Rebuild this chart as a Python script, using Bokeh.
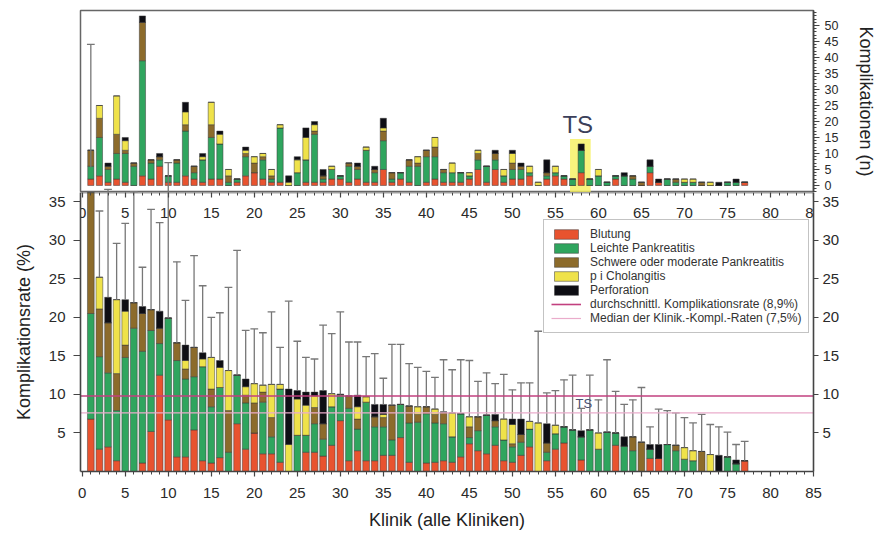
import numpy as np
from bokeh.plotting import figure
from bokeh.layouts import column
from bokeh.models import (ColumnDataSource, LinearAxis, Range1d, SingleIntervalTicker,
                          FixedTicker, Legend, LegendItem, BoxAnnotation, Label)
from bokeh.embed import file_html
from bokeh.resources import INLINE

# ---------------- data ----------------
clinics = list(range(1, 78))
categories = ["Blutung", "Leichte Pankreatitis", "Schwere oder moderate Pankreatitis",
              "p i Cholangitis", "Perforation"]
keys = ["blutung", "leicht", "schwer", "cholangitis", "perforation"]
colors = ["#e8532f", "#2fa55e", "#8c6b2b", "#efe24a", "#0e0e14"]

# complication rate (%) per clinic, by type
rate_blutung = [6.8, 2.9, 3.2, 1.4, 0, 0, 1.1, 5.2, 12.5, 6.7,
                1.9, 1.9, 5.4, 1.4, 1.1, 1.8, 0, 6.2, 2.9, 5.0,
                2.3, 2.3, 1.2, 0, 0, 2.5, 2.5, 2.0, 3.4, 6.6,
                1.4, 2.7, 1.4, 1.4, 2.1, 2.1, 4.4, 1.2, 0, 1.1,
                1.2, 1.4, 1.2, 1.9, 3.6, 2.7, 2.3, 3.4, 1.4, 1.2,
                2.1, 3.2, 0, 1.4, 2.9, 3.7, 0, 1.5, 0, 0,
                0, 3.4, 0, 0, 0, 1.7, 1.7, 0, 0, 0,
                0, 0, 0, 0, 0, 0, 1.4]
rate_leicht = [13.7, 12.0, 9.6, 6.5, 14.8, 18.6, 14.5, 13.1, 4.1, 13.2,
               12.5, 10.1, 6.9, 12.2, 7.3, 9.1, 2.5, 6.3, 6.0, 0,
               6.7, 2.2, 9.5, 0, 4.7, 2.2, 3.7, 2.2, 5.0, 3.4,
               6.8, 2.8, 7.6, 4.4, 3.7, 2.0, 4.3, 5.1, 6.4, 6.4,
               5.1, 4.8, 3.3, 5.6, 0.8, 2.6, 5.0, 2.4, 2.7, 2.0,
               1.7, 2.3, 0, 1.1, 2.0, 2.1, 5.4, 3.0, 5.4, 2.9,
               5.1, 1.6, 3.3, 2.7, 0, 1.2, 0, 3.5, 2.7, 1.6,
               1.4, 0, 0, 0, 1.9, 1.0, 0]
rate_schwer = [19.0, 6.2, 6.5, 4.8, 1.6, 3.3, 4.9, 2.7, 2.0, 0,
               2.3, 1.3, 3.8, 0, 2.3, 0, 5.4, 0, 1.0, 3.9,
               1.3, 2.5, 0, 0, 0, 0, 2.1, 2.0, 0, 0,
               1.6, 1.3, 0, 1.3, 1.2, 4.5, 0, 2.2, 1.0, 0.9,
               1.1, 1.5, 0, 0, 1.4, 1.8, 0, 0.8, 0, 0.4,
               1.0, 0, 0, 1.2, 0, 0, 0, 0, 0, 0,
               0, 0, 0, 1.8, 3.8, 0, 0, 0, 0.7, 0,
               0, 2.6, 0, 0, 0, 0, 0]
rate_cholangitis = [0, 4.1, 0, 9.6, 4.4, 0, 0, 0, 0, 0,
                    0, 1.1, 0, 1.0, 4.1, 2.6, 5.2, 0, 1.1, 2.5,
                    0.9, 4.3, 0.6, 3.5, 4.7, 3.9, 1.5, 0, 1.7, 0,
                    0, 1.6, 0.7, 0, 0.4, 0, 0, 0, 1.0, 0,
                    0.7, 0, 3.1, 0, 1.3, 0, 0, 0, 2.7, 2.5,
                    0, 1.0, 6.3, 0, 1.1, 0, 0, 0, 0, 2.1,
                    0, 0, 0, 0, 0, 0, 0, 0, 0, 1.5,
                    1.3, 0, 2.2, 0, 0, 0, 0]
rate_perforation = [0, 0, 3.3, 0, 1.5, 0, 0.9, 0, 2.2, 0,
                    0, 2.0, 0, 0.8, 0, 0.9, 0, 0, 1.0, 0,
                    0, 0, 0, 7.2, 1.1, 1.7, 0.5, 4.3, 0, 0,
                    0, 1.5, 0, 1.6, 1.3, 0, 0, 0, 0, 0,
                    0, 0, 0, 0, 0, 0, 0, 0.8, 0, 0.7,
                    2.0, 0, 0, 2.5, 0, 0, 0, 0.8, 0, 0,
                    0, 0, 1.2, 0, 0, 0.6, 1.8, 0, 0, 0,
                    0, 0, 0, 2.1, 0, 0.5, 0]
# upper confidence limit (%)
rate_upper = [55.5, 33.8, 36.6, 29.6, 32.2, 36.3, 26.5, 34.0, 32.3, 40.1,
              27.2, 22.2, 28.0, 24.1, 20.0, 20.6, 23.9, 28.7, 18.3, 18.5,
              18.0, 20.7, 16.1, 22.1, 16.9, 14.8, 14.6, 19.0, 17.9, 20.7,
              16.8, 16.8, 14.9, 15.3, 12.1, 16.5, 16.5, 14.0, 13.5, 13.0,
              12.2, 14.5, 13.2, 14.5, 14.4, 11.7, 12.8, 11.4, 12.6, 10.6,
              11.5, 11.5, 18.2, 10.2, 10.5, 11.9, 12.5, 8.2, 12.5, 9.3,
              14.5, 10.4, 8.7, 9.3, 10.9, 5.8, 8.1, 7.9, 7.6, 7.0,
              6.3, 7.4, 6.1, 5.8, 5.1, 3.5, 3.9]

# number of complications per clinic, by type
n_blutung = [2, 3, 1, 2, 1, 0, 3, 2, 6, 1, 1, 3, 2, 1, 2, 2, 0, 1, 3, 4,
             2, 1, 1, 0, 0, 1, 1, 1, 2, 2, 1, 2, 1, 1, 5, 1, 2, 1, 0, 1,
             2, 1, 1, 1, 2, 5, 1, 5, 1, 2, 2, 3, 0, 2, 3, 2, 0, 4, 0, 0,
             0, 2, 0, 0, 0, 4, 1, 0, 0, 0, 0, 0, 0, 0, 0, 0, 1]
n_leicht = [4, 12, 4, 8, 9, 6, 36, 5, 2, 2, 6, 14, 2, 7, 13, 11, 1, 1, 6, 0,
            6, 1, 17, 0, 4, 7, 15, 1, 3, 1, 5, 3, 10, 3, 9, 1, 2, 5, 6, 8,
            7, 3, 3, 3, 1, 3, 5, 3, 2, 3, 3, 1, 0, 1, 1, 1, 2, 7, 2, 3,
            1, 1, 3, 2, 0, 2, 0, 2, 1, 1, 1, 0, 0, 0, 1, 1, 0]
n_schwer = [5, 6, 1, 6, 1, 1, 12, 1, 1, 0, 1, 2, 2, 0, 4, 0, 2, 0, 1, 3,
            1, 1, 0, 0, 0, 0, 1, 1, 0, 0, 1, 1, 0, 1, 3, 2, 0, 2, 1, 2,
            3, 1, 0, 0, 0, 2, 0, 2, 0, 2, 1, 0, 0, 1, 0, 0, 0, 0, 0, 0,
            0, 0, 0, 1, 1, 0, 0, 0, 1, 0, 0, 1, 0, 0, 0, 0, 0]
n_cholangitis = [0, 4, 0, 12, 3, 0, 0, 0, 0, 0, 0, 4, 0, 1, 7, 3, 2, 0, 1, 2,
                 1, 2, 1, 1, 4, 7, 2, 0, 1, 0, 0, 0, 1, 0, 1, 0, 0, 0, 2, 0,
                 3, 0, 3, 0, 1, 1, 0, 0, 2, 3, 0, 2, 1, 0, 2, 0, 0, 0, 0, 2,
                 0, 0, 0, 0, 0, 0, 0, 0, 0, 1, 1, 0, 1, 0, 0, 0, 0]
n_perforation = [0, 0, 1, 0, 1, 0, 2, 0, 1, 0, 0, 3, 0, 1, 0, 1, 0, 0, 1, 0,
                 0, 0, 0, 2, 1, 3, 1, 2, 0, 0, 0, 1, 0, 1, 3, 0, 0, 0, 0, 0,
                 0, 0, 0, 0, 0, 0, 0, 1, 0, 1, 1, 0, 0, 4, 0, 0, 0, 2, 0, 0,
                 0, 0, 1, 0, 0, 2, 1, 0, 0, 0, 0, 0, 0, 1, 0, 1, 0]

mean_rate_line = 9.8      # "durchschnittl. Komplikationsrate (8,9%)" as drawn
median_rate_line = 7.6    # "Median der Klinik.-Kompl.-Raten (7,5%)" as drawn
mean_label = "durchschnittl. Komplikationsrate (8,9%)"
median_label = "Median der Klinik.-Kompl.-Raten (7,5%)"
rate_ticks = [5, 10, 15, 20, 25, 30, 35]
marked_clinic = 58
marked_text = "TS"

# ---------------- ranges ----------------
X_START, X_END = -0.2, 85.0
PCT_SPLIT, PCT_TOP = 36.2, 59.9
N_START, N_END = -2.2, 54.7
xr = Range1d(X_START, X_END)

FONT = "Liberation Sans"
AX = "#444444"
W = 890
LEFT, RIGHT = 80, 77


def style_axis(ax, size="15px"):
    ax.axis_line_color = AX
    ax.axis_line_width = 1.6
    ax.major_tick_line_color = AX
    ax.minor_tick_line_color = AX
    ax.major_tick_line_width = 1.2
    ax.major_label_text_font = FONT
    ax.major_label_text_font_size = size
    ax.major_label_text_color = "#2a2a2a"
    ax.axis_label_text_font = FONT
    ax.axis_label_text_font_style = "normal"
    ax.axis_label_text_color = "#222222"
    ax.axis_label_text_font_size = "18px"


x = np.array(clinics, dtype=float)
rate_arrays = [rate_blutung, rate_leicht, rate_schwer, rate_cholangitis, rate_perforation]
count_arrays = [n_blutung, n_leicht, n_schwer, n_cholangitis, n_perforation]
rate_total = np.sum(np.array(rate_arrays, dtype=float), axis=0)
upper = np.array(rate_upper, dtype=float)
CAP = 0.45

whisk_src = ColumnDataSource(dict(x=x, y0=rate_total, y1=upper, xl=x - CAP, xr=x + CAP))

# ---------------- top panel: counts ----------------
top = figure(width=W, height=192, x_range=xr, y_range=Range1d(N_START, N_END),
             output_backend="svg", toolbar_location=None,
             x_axis_location=None, y_axis_location=None,
             min_border_left=LEFT, min_border_right=RIGHT, min_border_top=10, min_border_bottom=0)
top.grid.visible = False
top.outline_line_color = "#666666"
top.outline_line_width = 1.5
top.extra_y_ranges = {"pct": Range1d(PCT_SPLIT, PCT_TOP)}

top.add_layout(BoxAnnotation(left=marked_clinic - 1.3, right=marked_clinic + 1.1,
                             bottom=N_START, top=14.5, fill_color="#f6f05c",
                             fill_alpha=0.8, line_alpha=0, level="underlay"))

count_src = ColumnDataSource(dict(x=x, **{k: v for k, v in zip(keys, count_arrays)}))
top.vbar_stack(keys, x="x", width=0.72, color=colors, line_color="#3a3a3a",
               line_width=0.5, source=count_src)
top.segment(x0="x", y0="y0", x1="x", y1="y1", source=whisk_src, y_range_name="pct",
            line_color="#777777", line_width=1.3)
top.segment(x0="xl", y0="y1", x1="xr", y1="y1", source=whisk_src, y_range_name="pct",
            line_color="#777777", line_width=1.3)

ax_n = LinearAxis(ticker=SingleIntervalTicker(interval=5, num_minor_ticks=5),
                  axis_label="Komplikationen (n)")
style_axis(ax_n, "12.5px")
ax_n.major_tick_out = 6
ax_n.major_tick_in = 0
ax_n.minor_tick_out = 3
ax_n.minor_tick_in = 0
ax_n.major_label_standoff = 5
ax_n.axis_label_standoff = 15
top.add_layout(ax_n, "right")

top.add_layout(Label(x=marked_clinic - 0.4, y=19, text=marked_text, text_font=FONT,
                     text_font_size="24px", text_color="#3b3f5a",
                     text_align="center", text_baseline="middle"))

# ---------------- bottom panel: rates ----------------
bot = figure(width=W, height=342, x_range=xr, y_range=Range1d(0, PCT_SPLIT),
             output_backend="svg", toolbar_location=None,
             x_axis_location=None, y_axis_location=None,
             min_border_left=LEFT, min_border_right=RIGHT, min_border_top=0, min_border_bottom=63)
bot.grid.visible = False
bot.outline_line_color = None

rate_src = ColumnDataSource(dict(x=x, **{k: v for k, v in zip(keys, rate_arrays)}))
bars = bot.vbar_stack(keys, x="x", width=0.78, color=colors, line_color="#3a3a3a",
                      line_width=0.5, source=rate_src)
bot.segment(x0="x", y0="y0", x1="x", y1="y1", source=whisk_src,
            line_color="#777777", line_width=1.3)
bot.segment(x0="xl", y0="y1", x1="xr", y1="y1", source=whisk_src,
            line_color="#777777", line_width=1.3)

mean_r = bot.line(x=[X_START, X_END], y=[mean_rate_line, mean_rate_line],
                  line_color="#c2407f", line_width=1.6)
med_r = bot.line(x=[X_START, X_END], y=[median_rate_line, median_rate_line],
                 line_color="#eaaccb", line_width=1.2)

bot.add_layout(Label(x=marked_clinic + 0.3, y=8.8, text=marked_text, text_font=FONT,
                     text_font_size="13px", text_color="#4a5070",
                     text_align="center", text_baseline="middle"))

ax_x = LinearAxis(ticker=SingleIntervalTicker(interval=5, num_minor_ticks=5),
                  axis_label="Klinik (alle Kliniken)")
style_axis(ax_x, "15px")
ax_x.major_tick_out = 5
ax_x.major_tick_in = 0
ax_x.minor_tick_out = 3
ax_x.minor_tick_in = 0
ax_x.major_label_standoff = 11
ax_x.axis_label_standoff = 9
bot.add_layout(ax_x, "below")

ax_xt = LinearAxis(ticker=SingleIntervalTicker(interval=5, num_minor_ticks=5),
                   fixed_location=PCT_SPLIT)
style_axis(ax_xt, "15px")
ax_xt.major_tick_out = 5
ax_xt.major_tick_in = 0
ax_xt.minor_tick_out = 3
ax_xt.minor_tick_in = 0
ax_xt.major_label_standoff = 10
bot.add_layout(ax_xt, "below")

ax_yl = LinearAxis(ticker=FixedTicker(ticks=rate_ticks), axis_label="Komplikationsrate (%)")
style_axis(ax_yl, "15px")
ax_yl.major_tick_out = 7
ax_yl.major_tick_in = 0
ax_yl.minor_tick_out = 0
ax_yl.minor_tick_in = 0
ax_yl.major_label_standoff = 8
ax_yl.axis_label_standoff = 12
bot.add_layout(ax_yl, "left")

ax_yr = LinearAxis(ticker=FixedTicker(ticks=rate_ticks))
style_axis(ax_yr, "15px")
ax_yr.major_tick_out = 5
ax_yr.major_tick_in = 0
ax_yr.minor_tick_out = 0
ax_yr.minor_tick_in = 0
ax_yr.major_label_standoff = 4
bot.add_layout(ax_yr, "right")

items = [LegendItem(label=c, renderers=[r]) for c, r in zip(categories, bars)]
items += [LegendItem(label=mean_label, renderers=[mean_r]),
          LegendItem(label=median_label, renderers=[med_r])]
legend = Legend(items=items, location=(463, 138), orientation="vertical",
                label_text_font=FONT, label_text_font_size="12px", label_text_color="#333333",
                glyph_width=30, glyph_height=12, label_height=12, label_standoff=9,
                spacing=0, padding=7, margin=0, border_line_color="#888888",
                border_line_width=1.3, background_fill_color="white", background_fill_alpha=1)
bot.add_layout(legend)

layout = column(top, bot, spacing=0)
open("out.html", "w").write(file_html(layout, INLINE))
